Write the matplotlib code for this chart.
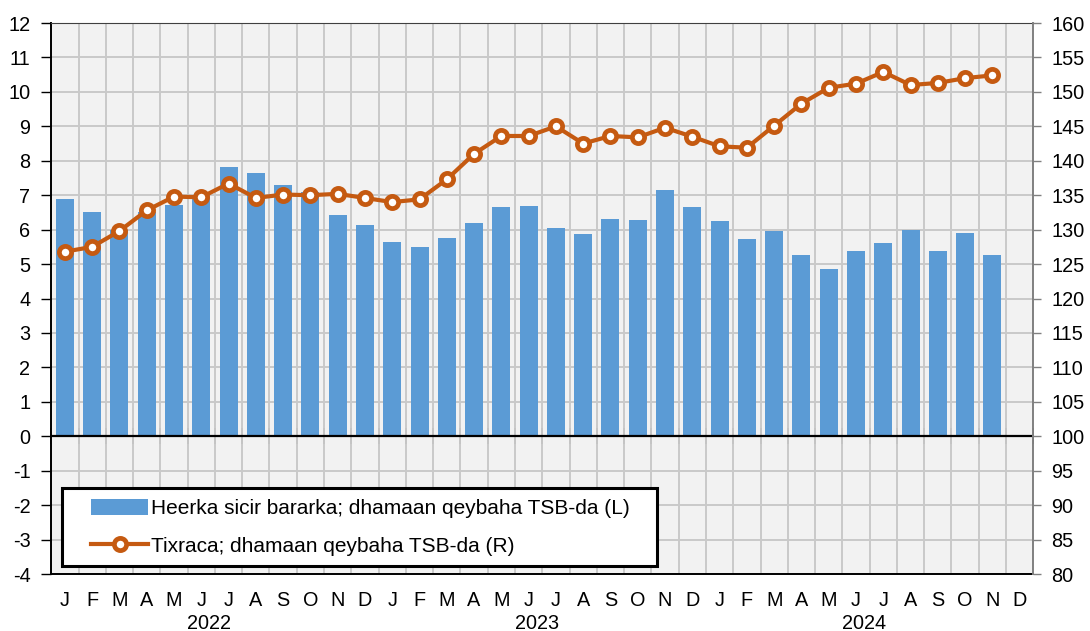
import numpy as np
import matplotlib
matplotlib.use("Agg")
import matplotlib.pyplot as plt
from matplotlib.patches import Rectangle
from matplotlib.ticker import FixedLocator, NullFormatter

plt.rcParams['font.family'] = ['Liberation Sans', 'DejaVu Sans']
plt.rcParams['axes.unicode_minus'] = False

# --- data (Jan 2022 .. Dec 2024, Dec 2024 empty) ---
months = ["J", "F", "M", "A", "M", "J", "J", "A", "S", "O", "N", "D"] * 3
years = ["2022", "2023", "2024"]

inflation = [6.88, 6.51, 6.00, 6.50, 6.73, 7.00, 7.83, 7.64, 7.31, 7.10, 6.44, 6.13,
             5.64, 5.50, 5.76, 6.20, 6.66, 6.69, 6.05, 5.87, 6.31, 6.27, 7.14, 6.65,
             6.24, 5.72, 5.95, 5.26, 4.86, 5.38, 5.60, 5.98, 5.38, 5.90, 5.26]

index_r = [126.8, 127.5, 129.8, 132.8, 134.8, 134.7, 136.7, 134.6, 135.1, 135.0, 135.2, 134.6,
           134.0, 134.4, 137.3, 141.0, 143.6, 143.6, 145.0, 142.5, 143.6, 143.4, 144.8, 143.5,
           142.1, 141.9, 145.1, 148.3, 150.6, 151.2, 152.9, 151.0, 151.3, 152.0, 152.4]

label_l = "Heerka sicir bararka; dhamaan qeybaha TSB-da (L)"
label_r = "Tixraca; dhamaan qeybaha TSB-da (R)"

bar_col = "#5b9bd5"
line_col = "#c55a11"
grid_col = "#c9c9c9"
fs = 14.3

n_cat = len(months)
x = np.arange(len(inflation))

fig = plt.figure(figsize=(10.9, 6.31), dpi=100)
ax = fig.add_axes([0.047, 0.0903, 0.901, 0.8732])
ax.set_facecolor("#f2f2f2")
ax.set_axisbelow(True)

bars = ax.bar(x, inflation, width=0.66, color=bar_col, label=label_l, zorder=2)

ax.set_xlim(-0.5, n_cat - 0.5)
ax.set_ylim(-4, 12)
ax.set_yticks(np.arange(-4, 13, 1))
ax.set_xticks(np.arange(n_cat))
ax.set_xticklabels(months)
ax.xaxis.set_minor_locator(FixedLocator(np.arange(-0.5, n_cat, 1)))
ax.tick_params(axis="x", which="major", length=0, pad=12, labelsize=fs)
ax.tick_params(axis="x", which="minor", length=0)
ax.tick_params(axis="y", length=7, width=1, pad=8, labelsize=fs, colors="black")
ax.grid(True, which="minor", axis="x", color=grid_col, lw=1.4)
ax.grid(True, which="major", axis="y", color=grid_col, lw=1.4)

for side in ["left", "bottom"]:
    ax.spines[side].set_color("black")
    ax.spines[side].set_linewidth(1.4)
ax.spines["top"].set_color("#404040")
ax.spines["right"].set_visible(False)

# zero line with category ticks
ax.axhline(0, color="black", lw=1.6, zorder=3)
sec = ax.secondary_xaxis(4 / 16)
sec.set_xticks(np.arange(-0.5, n_cat, 1))
sec.xaxis.set_major_formatter(NullFormatter())
sec.tick_params(axis="x", direction="inout", length=11, width=1.2, color="black")
sec.spines["bottom"].set_visible(False)

# year labels
for i, yr in enumerate(years):
    ax.text(i * 12 + 5.3, -0.09, yr, transform=ax.get_xaxis_transform(),
            ha="center", va="center", fontsize=fs)

ax2 = ax.twinx()
ax2.set_ylim(80, 160)
ax2.set_yticks(np.arange(80, 161, 5))
ax2.plot(x, index_r, color=line_col, lw=3.0, marker="o", ms=8.8,
         mfc="white", mec=line_col, mew=3.4, label=label_r, zorder=4)
ax2.tick_params(axis="y", length=6, width=1, pad=7, labelsize=fs,
                color="#808080", labelcolor="black")
ax2.spines["right"].set_color("#808080")
ax2.spines["right"].set_linewidth(1.4)
for side in ["left", "bottom", "top"]:
    ax2.spines[side].set_visible(False)

# legend box
frame = Rectangle((0.0112, 0.0145), 0.6055, 0.1415, transform=ax2.transAxes,
                  facecolor="white", edgecolor="black", lw=2.2, zorder=9)
ax2.add_patch(frame)

handles = [bars, ax2.get_lines()[0]]
leg = ax2.legend(handles, [label_l, label_r], loc="center left",
                 bbox_to_anchor=(0.0405, 0.085), frameon=False,
                 fontsize=15, handlelength=2.75, handleheight=0.8,
                 handletextpad=0.15, borderpad=0, labelspacing=0.9,
                 borderaxespad=0)
leg.set_zorder(10)

fig.savefig("out.png", dpi=100)
